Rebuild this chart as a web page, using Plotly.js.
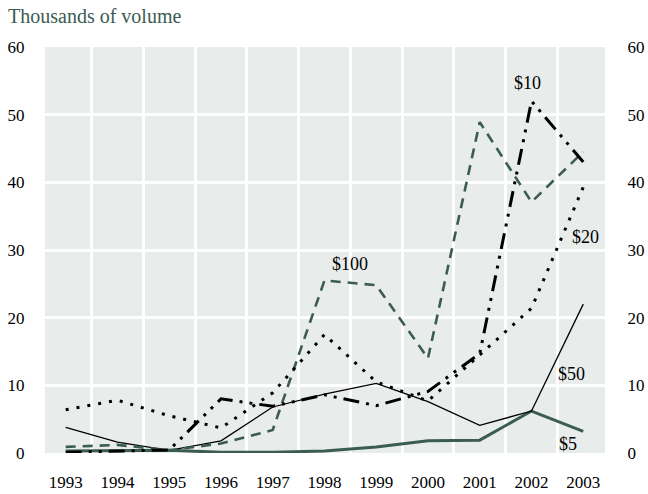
<!DOCTYPE html>
<html>
<head>
<meta charset="utf-8">
<script src="https://cdn.plot.ly/plotly-3.0.1.min.js"></script>
<style>html,body{margin:0;padding:0;background:#fff;}#chart{width:648px;height:494px;}</style>
</head>
<body>
<div id="chart"></div>
<script>
const years = [1993,1994,1995,1996,1997,1998,1999,2000,2001,2002,2003];
const v5   = [0.3,0.4,0.4,0.1,0.1,0.3,0.9,1.8,1.9,6.2,3.2];
const v10  = [0.1,0.3,0.45,8.0,6.9,8.6,7.0,9.1,14.7,52.0,43.0];
const v20  = [6.4,7.8,5.5,3.7,8.9,17.5,10.5,7.7,14.5,21.4,39.3];
const v50  = [3.8,1.6,0.4,1.8,6.8,8.7,10.3,7.6,4.1,6.2,22.0];
const v100 = [0.9,1.2,0.4,1.4,3.4,25.5,24.8,14.0,48.9,37.1,44.5];
const labels = ['$10','$20','$100','$50','$5'];
const labelX = [2001.92,2003.04,1998.49,2002.77,2002.71];
const labelY = [54.7,31.9,27.9,11.7,1.3];
const yTicks = [0,10,20,30,40,50,60];

const green = '#3b5c52';
const serif = 'Liberation Serif';
const gridVals = years.slice(0,-1).map(y => y + 0.5);

const traces = [
  {x: years, y: v5, mode:'lines', line:{color: green, width:3}},
  {x: years, y: v50, mode:'lines', line:{color:'#000', width:1.3}},
  {x: years, y: v100, mode:'lines', line:{color: green, width:2.6, dash:'10px,7px'}},
  {x: years, y: v20, mode:'lines', line:{color:'#000', width:3, dash:'3px,8px'}},
  {x: years, y: v10, mode:'lines', line:{color:'#000', width:3, dash:'16px,7px,3px,7px,3px,7px'}},
  {x: years, y: years.map(() => null), yaxis:'y2', mode:'lines', hoverinfo:'skip'}
];

const tf = {family: serif, size:17, color:'#000'};
const layout = {
  width: 648, height: 494,
  margin: {l:45, r:43, t:47, b:41},
  paper_bgcolor:'#fff', plot_bgcolor:'#e8ecea',
  showlegend:false,
  font: tf,
  xaxis:{
    range:[1992.6,2003.42], tickmode:'array', tickvals: years, ticktext: years.map(String),
    showgrid:false, zeroline:false, showline:false,
    ticks:'outside', ticklen:14, tickcolor:'rgba(0,0,0,0)', tickfont: tf,
    minor:{tickmode:'array', tickvals: gridVals, showgrid:true, gridcolor:'#fff', gridwidth:3, ticks:''}
  },
  yaxis:{
    range:[0,60], tickmode:'array', tickvals: yTicks, showgrid:true, gridcolor:'#fff', gridwidth:3,
    zeroline:false, showline:false, ticks:'outside', ticklen:16, tickcolor:'rgba(0,0,0,0)', tickfont: tf
  },
  yaxis2:{
    range:[0,60], overlaying:'y', side:'right', tickmode:'array', tickvals: yTicks,
    showgrid:false, zeroline:false, showline:false, ticks:'outside', ticklen:18, tickcolor:'rgba(0,0,0,0)', tickfont: tf
  },
  title:{text:'Thousands of volume', x:8/648, xref:'container', xanchor:'left', y:0.967, yanchor:'middle',
    font:{family: serif, size:20, color: green}},
  annotations: labels.map((t,i) => ({x: labelX[i], y: labelY[i], xref:'x', yref:'y', text:t, showarrow:false,
    font:{family: serif, size:18, color:'#000'}}))
};

Plotly.newPlot('chart', traces, layout, {displayModeBar:false, staticPlot:true});
</script>
</body>
</html>
